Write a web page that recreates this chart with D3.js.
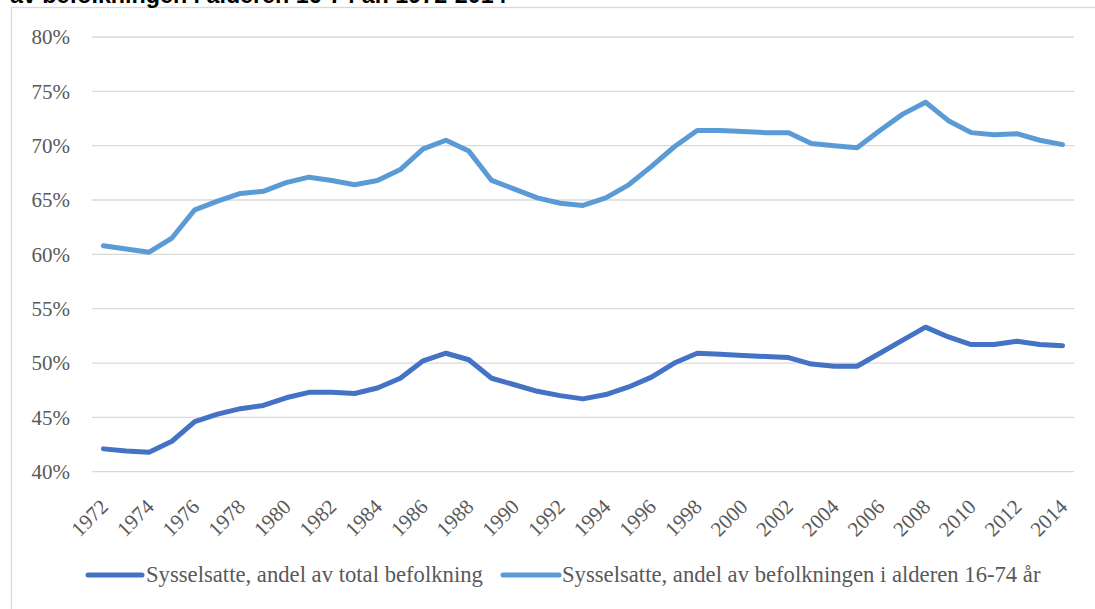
<!DOCTYPE html>
<html>
<head>
<meta charset="utf-8">
<script src="https://cdn.jsdelivr.net/npm/d3@7"></script>
<style>
  html, body { margin: 0; padding: 0; background: #fff; }
  svg { display: block; }
</style>
</head>
<body>
<svg id="chart" width="1095" height="609"></svg>
<script>
const titleText = "av befolkningen i alderen 16-74 år. 1972-2014";
const years = d3.range(1972, 2015);
const seriesNames = [
  "Sysselsatte, andel av total befolkning",
  "Sysselsatte, andel av befolkningen i alderen 16-74 år"
];
const totalShare = [42.1, 41.9, 41.8, 42.8, 44.6, 45.3, 45.8, 46.1, 46.8, 47.3,
  47.3, 47.2, 47.7, 48.6, 50.2, 50.9, 50.3, 48.6, 48.0, 47.4,
  47.0, 46.7, 47.1, 47.8, 48.7, 50.0, 50.9, 50.8, 50.7, 50.6,
  50.5, 49.9, 49.7, 49.7, 50.9, 52.1, 53.3, 52.4, 51.7, 51.7,
  52.0, 51.7, 51.6];
const ageShare = [60.8, 60.5, 60.2, 61.5, 64.1, 64.9, 65.6, 65.8, 66.6, 67.1,
  66.8, 66.4, 66.8, 67.8, 69.7, 70.5, 69.5, 66.8, 66.0, 65.2,
  64.7, 64.5, 65.2, 66.4, 68.1, 69.9, 71.4, 71.4, 71.3, 71.2,
  71.2, 70.2, 70.0, 69.8, 71.4, 72.9, 74.0, 72.3, 71.2, 71.0,
  71.1, 70.5, 70.1];
const yTicks = [40, 45, 50, 55, 60, 65, 70, 75, 80];
const xTickYears = years.filter(y => (y - 1972) % 2 === 0);
const colors = ["#4472C4", "#5B9BD5"];

const serifFont = '"Liberation Serif", "Times New Roman", serif';
const svg = d3.select("#chart");
const labelColor = "#595959";

svg.append("rect")
  .attr("x", 11.5).attr("y", 7.5)
  .attr("width", 1200).attr("height", 700)
  .attr("fill", "none").attr("stroke", "#d9d9d9").attr("stroke-width", 1.3);

const title = svg.append("text")
  .attr("x", 10).attr("y", 3)
  .style("font-family", '"Liberation Sans", Arial, sans-serif')
  .style("font-weight", "bold")
  .style("font-size", "17px")
  .attr("fill", "#000")
  .text(titleText);
{
  const w = title.node().getComputedTextLength();
  title.style("font-size", (17 * 497 / w) + "px");
}

const x = d3.scaleBand().domain(years).range([92, 1074]).padding(0);
const cx = d => x(d) + x.bandwidth() / 2;
const y = d3.scaleLinear().domain([40, 80]).range([471.7, 37]);

svg.append("g").selectAll("line").data(yTicks).join("line")
  .attr("x1", 92).attr("x2", 1074)
  .attr("y1", d => y(d)).attr("y2", d => y(d))
  .attr("stroke", "#d9d9d9").attr("stroke-width", 1.3);

svg.append("g").selectAll("text").data(yTicks).join("text")
  .attr("x", 70).attr("y", d => y(d))
  .attr("dy", "0.35em")
  .attr("text-anchor", "end")
  .style("font-family", serifFont)
  .style("font-size", "21px")
  .attr("fill", labelColor)
  .text(d => d + "%");

svg.append("g").selectAll("text").data(xTickYears).join("text")
  .attr("transform", d => `translate(${cx(d) + 6},${508}) rotate(-45)`)
  .attr("text-anchor", "end")
  .style("font-family", serifFont)
  .style("font-size", "21px")
  .attr("fill", labelColor)
  .text(d => d);

const line = d3.line().x((d, i) => cx(years[i])).y(d => y(d));
[totalShare, ageShare].forEach((s, i) => {
  svg.append("path")
    .datum(s)
    .attr("d", line)
    .attr("fill", "none")
    .attr("stroke", colors[i])
    .attr("stroke-width", 5)
    .attr("stroke-linejoin", "round")
    .attr("stroke-linecap", "round");
});

const legY = 575;
const leg = [
  { x1: 88, x2: 142, tx: 146 },
  { x1: 503, x2: 559, tx: 562 }
];
const legTexts = [];
leg.forEach((l, i) => {
  svg.append("line")
    .attr("x1", l.x1).attr("x2", l.x2)
    .attr("y1", legY).attr("y2", legY)
    .attr("stroke", colors[i]).attr("stroke-width", 5)
    .attr("stroke-linecap", "round");
  legTexts.push(svg.append("text")
    .attr("x", l.tx).attr("y", legY)
    .attr("dy", "0.33em")
    .style("font-family", serifFont)
    .style("font-size", "22.5px")
    .attr("fill", labelColor)
    .text(seriesNames[i]));
});
{
  const w = legTexts[0].node().getComputedTextLength();
  const fs = 22.5 * 337 / w;
  legTexts.forEach(t => t.style("font-size", fs + "px"));
}
</script>
</body>
</html>
